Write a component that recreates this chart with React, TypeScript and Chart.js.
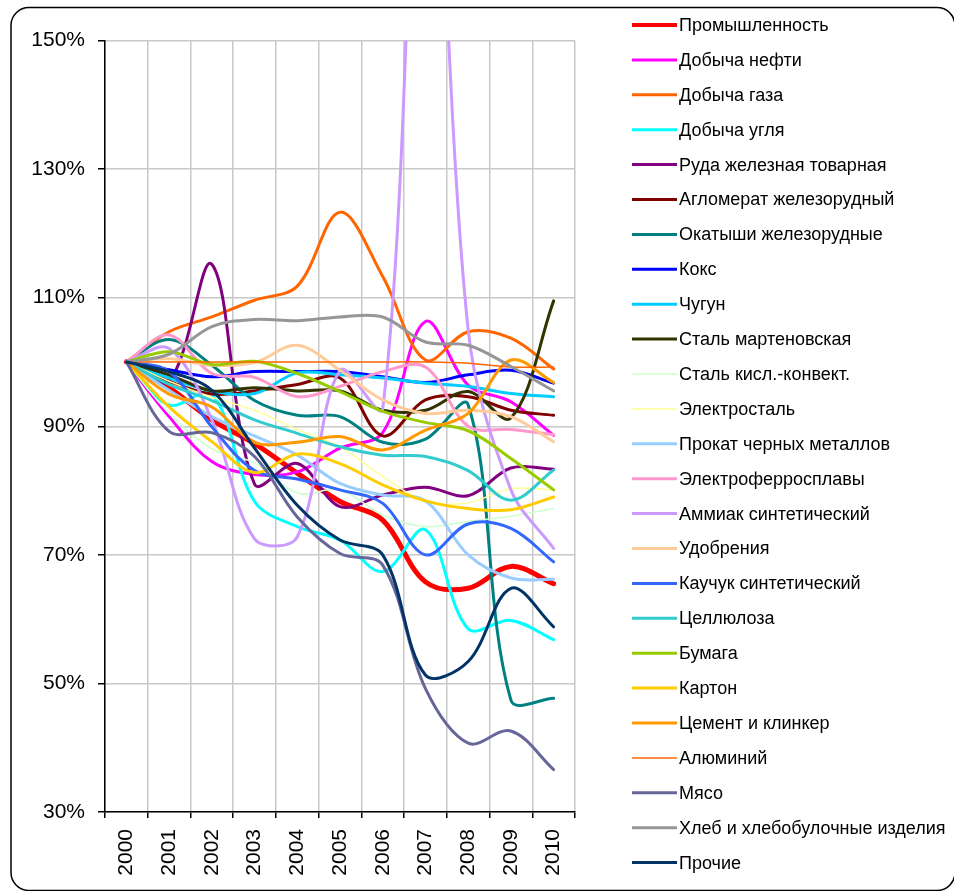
import React, { useEffect, useRef } from "react";
import { Chart, registerables } from "chart.js";

Chart.register(...registerables);

const years = ["2000", "2001", "2002", "2003", "2004", "2005", "2006", "2007", "2008", "2009", "2010"];

const seriesNames = [
  "Промышленность",
  "Добыча нефти",
  "Добыча газа",
  "Добыча угля",
  "Руда железная товарная",
  "Агломерат железорудный",
  "Окатыши железорудные",
  "Кокс",
  "Чугун",
  "Сталь мартеновская",
  "Сталь кисл.-конвект.",
  "Электросталь",
  "Прокат черных металлов",
  "Электроферросплавы",
  "Аммиак синтетический",
  "Удобрения",
  "Каучук синтетический",
  "Целлюлоза",
  "Бумага",
  "Картон",
  "Цемент и клинкер",
  "Алюминий",
  "Мясо",
  "Хлеб и хлебобулочные изделия",
  "Прочие",
];

const promyshlennost = [100, 96, 91, 87.3, 82.7, 78.3, 75.4, 65.8, 64.8, 68.2, 65.5];
const neft = [100, 91.5, 84.5, 82.5, 82.9, 86.6, 89, 106.3, 96.4, 93.8, 88.6];
const gaz = [100, 104.7, 107, 109.6, 111.8, 123.3, 113.3, 100.3, 104.7, 103.7, 98.9];
const ugol = [100, 93.3, 95, 78.3, 74.4, 72.3, 67.4, 73.9, 58.5, 59.8, 56.8];
const ruda = [100, 97, 115.2, 81, 84.2, 77.5, 79.3, 80.5, 79.2, 83.5, 83.3];
const aglomerat = [100, 97, 95, 95.5, 96.5, 97.5, 88.5, 94.1, 94.6, 92.5, 91.7];
const okatyshi = [100, 103.5, 99.5, 94, 91.7, 91.5, 87.5, 88, 93.3, 47.4, 47.7];
const koks = [100, 98.8, 97.7, 98.5, 98.5, 98.5, 97.7, 96.8, 98, 98.7, 96.7];
const chugun = [100, 97.5, 95.5, 95.1, 98.3, 98, 97.5, 96.7, 96.2, 95.1, 94.6];
const stalMarten = [100, 98, 95.5, 96, 95.5, 95.5, 92.5, 92.5, 95.4, 91.3, 109.5];
const stalKisl = [100, 92, 86.5, 84.3, 79.6, 80.1, 76.2, 74.4, 75.2, 76, 77.2];
const elektrostal = [100, 97, 94.5, 92.5, 89.5, 86.8, 82.2, 78.3, 78.1, 80.3, 80.1];
const prokat = [100, 95.6, 91.5, 88.5, 85.5, 81.1, 79.3, 78.4, 70, 66.4, 66.2];
const ferrosplavy = [100, 104.2, 98.2, 97.6, 94.6, 96.2, 98.5, 99.2, 90, 89.5, 88.7];
const ammiak = [100, 102.1, 91, 72.5, 72.8, 98.7, 92.8, 205, 105, 80.1, 71];
const udobreniya = [100, 100.5, 99.5, 99.9, 102.6, 98.7, 94.1, 92, 92.5, 91.5, 87.6];
const kauchuk = [100, 98.5, 89.9, 83.1, 81.8, 80.1, 78, 70, 74.8, 74.1, 68.9];
const cellyuloza = [100, 96.5, 94, 91, 88.9, 86.8, 85.5, 85.3, 83.1, 78.5, 83.2];
const bumaga = [100, 101.6, 99.6, 100.1, 98.2, 95.4, 92.3, 90.6, 89.3, 85, 80.1];
const karton = [100, 93, 87.6, 82.8, 85.7, 84.2, 80.9, 78.4, 77.2, 77, 79];
const cement = [100, 95, 93, 87.5, 87.5, 88.4, 86.3, 89.4, 92, 100.3, 96.8];
const alyuminiy = [100, 100, 100, 100, 100, 100, 100, 100, 99.8, 99.2, 99.2];
const myaso = [100, 89.2, 89, 85.3, 75.9, 70.2, 68.4, 49.2, 40.7, 42.6, 36.6];
const hleb = [100, 101.2, 105.5, 106.6, 106.4, 107, 107, 103.1, 102.6, 99.3, 95.5];
const prochie = [100, 98.5, 95.6, 86.6, 77.7, 72.3, 70, 51.3, 53.4, 64.8, 58.8];

const seriesValues = [
  promyshlennost, neft, gaz, ugol, ruda, aglomerat, okatyshi, koks, chugun,
  stalMarten, stalKisl, elektrostal, prokat, ferrosplavy, ammiak, udobreniya,
  kauchuk, cellyuloza, bumaga, karton, cement, alyuminiy, myaso, hleb, prochie,
];

const seriesColors = [
  "#FF0000", "#FF00FF", "#FF6600", "#00FFFF", "#800080", "#800000", "#008080",
  "#0000FF", "#00CCFF", "#333300", "#CCFFCC", "#FFFF99", "#99CCFF", "#FF99CC",
  "#CC99FF", "#FFCC99", "#3366FF", "#33CCCC", "#99CC00", "#FFCC00", "#FF9900",
  "#FF6600", "#666699", "#969696", "#003366",
];

const seriesWidths = [
  5, 3, 3, 3, 3, 3, 3, 3, 3, 3, 1.5, 1.5, 3, 3, 3, 3, 3, 3, 3, 3, 3, 1.5, 3, 3, 3,
];

const FONT = "'Liberation Sans', Arial, sans-serif";

const framePlugin = {
  id: "frameAndLegend",
  afterDraw(chart: any) {
    const ctx = chart.ctx as CanvasRenderingContext2D;
    ctx.save();
    ctx.strokeStyle = "#000";
    ctx.lineWidth = 1.5;
    ctx.beginPath();
    (ctx as any).roundRect(11, 7.5, 944, 883, 18);
    ctx.stroke();

    const top = 25;
    const step = 34.9;
    chart.data.datasets.forEach((ds: any, i: number) => {
      const y = top + i * step;
      ctx.strokeStyle = ds.borderColor;
      ctx.lineWidth = i === 0 ? 4 : ds.borderWidth;
      ctx.lineCap = "butt";
      ctx.beginPath();
      ctx.moveTo(632, y);
      ctx.lineTo(677, y);
      ctx.stroke();
      ctx.fillStyle = "#000";
      ctx.font = "18px " + FONT;
      ctx.textBaseline = "middle";
      ctx.textAlign = "left";
      ctx.fillText(ds.label, 679, y + 1);
    });
    ctx.restore();
  },
};

export default function App() {
  const canvasRef = useRef<HTMLCanvasElement | null>(null);

  useEffect(() => {
    const canvas = canvasRef.current;
    if (!canvas) return;
    const chart = new Chart(canvas, {
      type: "line",
      data: {
        labels: years,
        datasets: seriesValues.map((vals, i) => ({
          label: seriesNames[i],
          data: vals,
          borderColor: seriesColors[i],
          backgroundColor: seriesColors[i],
          borderWidth: seriesWidths[i],
          pointRadius: 0,
          tension: 0.35,
          fill: false,
          order: seriesValues.length - i,
        })),
      },
      options: {
        responsive: false,
        animation: false,
        devicePixelRatio: 1,
        events: [],
        layout: { padding: { left: 20, top: 40.5, right: 379, bottom: 10 } },
        elements: { line: { capBezierPoints: false, borderCapStyle: "round", borderJoinStyle: "round" } },
        plugins: { legend: { display: false }, tooltip: { enabled: false }, title: { display: false } },
        scales: {
          x: {
            type: "category",
            offset: true,
            afterFit: (s: any) => { s.height = 891 - 812 - 10; },
            grid: { offset: true, color: "#c8c8c8", lineWidth: 1.5, tickColor: "#000", tickLength: 6, drawTicks: true },
            border: { color: "#000", width: 1.5 },
            ticks: {
              color: "#000",
              font: { family: FONT, size: 21 },
              minRotation: 90,
              maxRotation: 90,
              padding: 11,
              autoSkip: false,
            },
          },
          y: {
            min: 30,
            max: 150,
            afterFit: (s: any) => { s.width = 105 - 20; },
            grid: { color: "#c8c8c8", lineWidth: 1.5, tickColor: "#000", tickLength: 7 },
            border: { color: "#000", width: 1.5 },
            ticks: {
              stepSize: 20,
              color: "#000",
              font: { family: FONT, size: 21 },
              padding: 13,
              callback: (v: any) => v + "%",
            },
          },
        },
      },
      plugins: [framePlugin],
    } as any);
    return () => chart.destroy();
  }, []);

  return (
    <div style={{ position: "fixed", left: 0, top: 0, width: 954, height: 891, background: "#fff" }}>
      <canvas ref={canvasRef} width={954} height={891} style={{ display: "block", width: 954, height: 891 }} />
    </div>
  );
}
